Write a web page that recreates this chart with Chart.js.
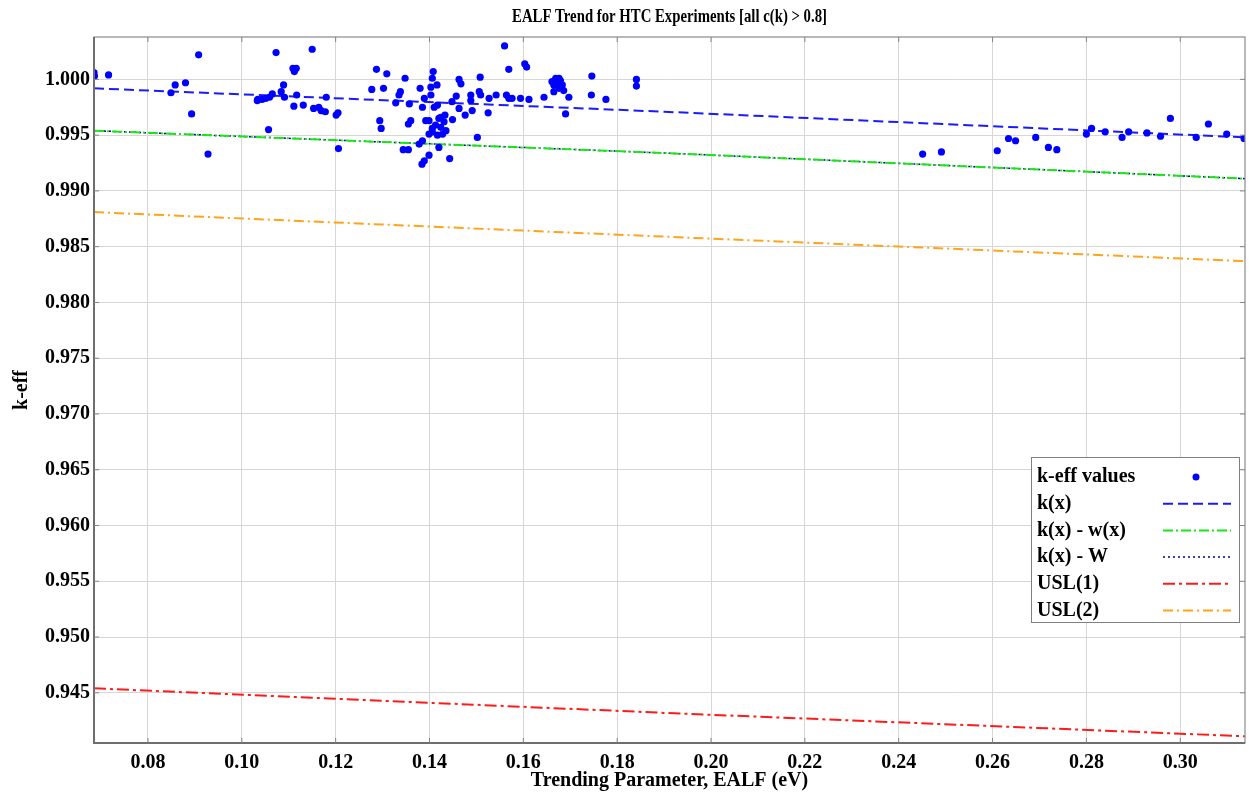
<!DOCTYPE html>
<html lang="en">
<head>
    <meta charset="UTF-8" />
    <title>EALF Trend for HTC Experiments</title>
    <script src="https://cdn.jsdelivr.net/npm/chart.js"></script>
    <style>
        body { margin: 0; background: #fff; }
        #wrap { width: 1249px; height: 797px; position: relative; }
    </style>
</head>
<body>
    <div id="wrap"><canvas id="ealfChart"></canvas></div>

    <script>
        // k-eff values (EALF in eV, k-eff)
        const keffX = [
            0.0685, 0.0686, 0.0716, 0.0908, 0.0858, 0.0880, 0.0849, 0.0893, 0.0928, 0.1033,
            0.1073, 0.1150, 0.1109, 0.1112, 0.1116, 0.1089, 0.1084, 0.1034, 0.1043, 0.1051,
            0.1059, 0.1065, 0.1091, 0.1117, 0.1111, 0.1131, 0.1153, 0.1164, 0.1169, 0.1178,
            0.1180, 0.1205, 0.1201, 0.1057, 0.1206, 0.1287, 0.1309, 0.1348, 0.1277, 0.1302,
            0.1338, 0.1335, 0.1328, 0.1294, 0.1297, 0.1357, 0.1355, 0.1360, 0.1344, 0.1355,
            0.1560, 0.1569, 0.1603, 0.1607, 0.1508, 0.1463, 0.1467, 0.1408, 0.1406, 0.1416,
            0.1403, 0.1380, 0.1389, 0.1403, 0.1385, 0.1410, 0.1417, 0.1433, 0.1424, 0.1457,
            0.1448, 0.1463, 0.1488, 0.1488, 0.1506, 0.1509, 0.1476, 0.1491, 0.1527, 0.1542,
            0.1525, 0.1564, 0.1569, 0.1576, 0.1594, 0.1612, 0.1644, 0.1661, 0.1665, 0.1669,
            0.1665, 0.1392, 0.1399, 0.1413, 0.1424, 0.1406, 0.1431, 0.1420, 0.1449, 0.1435,
            0.1428, 0.1399, 0.1417, 0.1406, 0.1385, 0.1378, 0.1420, 0.1502, 0.1399, 0.1389,
            0.1384, 0.1443, 0.1676, 0.1679, 0.1672, 0.1683, 0.1676, 0.1686, 0.1697, 0.1690,
            0.1746, 0.1745, 0.1776, 0.1841, 0.1841, 0.2451, 0.2491, 0.2610, 0.2634, 0.2649,
            0.2692, 0.2719, 0.2737, 0.2800, 0.2811, 0.2840, 0.2876, 0.2890, 0.2929, 0.2958,
            0.2979, 0.3034, 0.3060, 0.3099, 0.3136
        ];
        const keffY = [
            1.0006, 1.0003, 1.0004, 1.0022, 0.9995, 0.9997, 0.9988, 0.9969, 0.9933, 0.9981,
            1.0024, 1.0027, 1.0010, 1.0007, 1.0010, 0.9995, 0.9989, 0.9982, 0.9982, 0.9983,
            0.9984, 0.9987, 0.9984, 0.9986, 0.9976, 0.9977, 0.9974, 0.9975, 0.9972, 0.9971,
            0.9984, 0.9970, 0.9968, 0.9955, 0.9938, 1.0009, 1.0005, 1.0001, 0.9991, 0.9992,
            0.9989, 0.9986, 0.9979, 0.9963, 0.9956, 0.9978, 0.9960, 0.9963, 0.9937, 0.9937,
            1.0030, 1.0009, 1.0014, 1.0011, 1.0002, 1.0000, 0.9996, 1.0007, 1.0001, 0.9995,
            0.9993, 0.9992, 0.9983, 0.9986, 0.9975, 0.9975, 0.9977, 0.9968, 0.9966, 0.9985,
            0.9980, 0.9974, 0.9986, 0.9981, 0.9989, 0.9986, 0.9968, 0.9972, 0.9983, 0.9986,
            0.9970, 0.9986, 0.9983, 0.9983, 0.9983, 0.9982, 0.9984, 0.9998, 0.9995, 1.0001,
            0.9989, 0.9963, 0.9963, 0.9959, 0.9957, 0.9956, 0.9962, 0.9965, 0.9964, 0.9954,
            0.9951, 0.9951, 0.9950, 0.9953, 0.9945, 0.9942, 0.9939, 0.9948, 0.9932, 0.9927,
            0.9924, 0.9929, 1.0001, 0.9999, 0.9998, 0.9995, 0.9992, 0.9990, 0.9984, 0.9969,
            1.0003, 0.9986, 0.9982, 1.0000, 0.9994, 0.9933, 0.9935, 0.9936, 0.9947, 0.9945,
            0.9948, 0.9939, 0.9937, 0.9951, 0.9956, 0.9953, 0.9948, 0.9953, 0.9952, 0.9949,
            0.9965, 0.9948, 0.9960, 0.9951, 0.9947
        ];

        // trend lines, sampled at the ends and middle of the plot
        const lineX = [0.0685, 0.19, 0.3138];
        const kxY = [0.9992, 0.9971, 0.9948];
        const kxMinusWxY = [0.9954, 0.9934, 0.9911];
        const kxMinusWY = [0.9954, 0.9934, 0.9911];
        const usl1Y = [0.9454, 0.9432, 0.9411];
        const usl2Y = [0.9881, 0.9859, 0.9837];

        const xTicks = [0.08, 0.10, 0.12, 0.14, 0.16, 0.18, 0.20, 0.22, 0.24, 0.26, 0.28, 0.30];
        const yTicks = [0.945, 0.950, 0.955, 0.960, 0.965, 0.970, 0.975, 0.980, 0.985, 0.990, 0.995, 1.000];

        const FONT = "'Liberation Serif', 'Times New Roman', serif";

        const toPoints = (xs, ys) => xs.map((x, i) => ({ x: x, y: ys[i] }));

        function lineSet(label, ys, color, dash, width) {
            return {
                label: label,
                data: toPoints(lineX, ys),
                showLine: true,
                borderColor: color,
                borderWidth: width || 2,
                borderDash: dash,
                pointRadius: 0,
                fill: false
            };
        }

        // title centred over the plot area (slightly condensed like the original)
        const titlePlugin = {
            id: 'plotTitle',
            afterDraw(chart) {
                const { ctx, chartArea } = chart;
                ctx.save();
                ctx.translate((chartArea.left + chartArea.right) / 2, 17);
                ctx.scale(0.82, 1);
                ctx.font = "bold 18px " + FONT;
                ctx.fillStyle = '#000';
                ctx.textAlign = 'center';
                ctx.textBaseline = 'middle';
                ctx.fillText('EALF Trend for HTC Experiments [all c(k) > 0.8]', 0, 0);
                ctx.restore();
            }
        };

        // grey frame round the plot with small inner ticks
        const framePlugin = {
            id: 'frame',
            afterDatasetsDraw(chart) {
                const { ctx, chartArea: a, scales } = chart;
                ctx.save();
                ctx.strokeStyle = '#8a8a8a';
                ctx.lineWidth = 1.2;
                ctx.strokeRect(a.left, a.top, a.right - a.left, a.bottom - a.top);
                ctx.strokeStyle = '#6e6e6e';
                ctx.lineWidth = 2;
                ctx.beginPath();
                ctx.moveTo(a.left, a.top);
                ctx.lineTo(a.left, a.bottom);
                ctx.lineTo(a.right, a.bottom);
                ctx.stroke();
                ctx.lineWidth = 1;
                ctx.strokeStyle = '#858585';
                ctx.beginPath();
                yTicks.forEach(v => {
                    const y = scales.y.getPixelForValue(v);
                    ctx.moveTo(a.right - 5, y); ctx.lineTo(a.right, y);
                    ctx.moveTo(a.left, y); ctx.lineTo(a.left + 5, y);
                });
                xTicks.forEach(v => {
                    const x = scales.x.getPixelForValue(v);
                    ctx.moveTo(x, a.top); ctx.lineTo(x, a.top + 5);
                    ctx.moveTo(x, a.bottom); ctx.lineTo(x, a.bottom - 5);
                });
                ctx.stroke();
                ctx.restore();
            }
        };

        // legend box in the lower right: label on the left, sample on the right
        const legendPlugin = {
            id: 'boxLegend',
            afterDraw(chart) {
                const { ctx, chartArea: a } = chart;
                const left = a.right - 214, top = a.top + 420, w = 208, h = 165;
                ctx.save();
                ctx.fillStyle = '#fff';
                ctx.fillRect(left, top, w, h);
                ctx.strokeStyle = '#808080';
                ctx.lineWidth = 1;
                ctx.strokeRect(left + 0.5, top + 0.5, w, h);
                ctx.font = "bold 20px " + FONT;
                ctx.textBaseline = 'middle';
                ctx.textAlign = 'left';
                chart.data.datasets.forEach((ds, i) => {
                    const y = top + 20 + i * 26.7;
                    ctx.fillStyle = '#000';
                    ctx.fillText(ds.label, left + 6, y);
                    if (ds.showLine) {
                        ctx.strokeStyle = ds.borderColor;
                        ctx.lineWidth = ds.borderWidth;
                        ctx.setLineDash(ds.borderDash || []);
                        ctx.beginPath();
                        ctx.moveTo(left + 132, y);
                        ctx.lineTo(left + 200, y);
                        ctx.stroke();
                        ctx.setLineDash([]);
                    } else {
                        ctx.fillStyle = ds.backgroundColor;
                        ctx.beginPath();
                        ctx.arc(left + 165, y, 3.5, 0, Math.PI * 2);
                        ctx.fill();
                    }
                });
                ctx.restore();
            }
        };

        new Chart(document.getElementById('ealfChart'), {
            type: 'scatter',
            data: {
                datasets: [
                    {
                        label: 'k-eff values',
                        data: toPoints(keffX, keffY),
                        backgroundColor: '#0000ff',
                        borderWidth: 0,
                        pointRadius: 3.6,
                        showLine: false
                    },
                    lineSet('k(x)', kxY, '#1a1aff', [10, 5]),
                    lineSet('k(x) - w(x)', kxMinusWxY, '#19e619', [10, 3, 2, 3]),
                    lineSet('k(x) - W', kxMinusWY, '#00008b', [2, 3], 1.5),
                    lineSet('USL(1)', usl1Y, '#ff1a1a', [12, 4, 3, 4]),
                    lineSet('USL(2)', usl2Y, '#ffa31a', [10, 4, 2, 4])
                ]
            },
            options: {
                responsive: true,
                maintainAspectRatio: false,
                animation: false,
                layout: { padding: { top: 37, right: -2, left: 0, bottom: 0 } },
                plugins: {
                    legend: { display: false },
                    title: { display: false },
                    tooltip: { enabled: false }
                },
                scales: {
                    x: {
                        type: 'linear',
                        min: 0.0685,
                        max: 0.3138,
                        afterBuildTicks: s => { s.ticks = xTicks.map(v => ({ value: v })); },
                        afterFit: s => { s.height = 54; },
                        border: { display: false },
                        grid: { color: '#d6d6d6', lineWidth: 1, drawTicks: false },
                        ticks: {
                            padding: 8,
                            color: '#000',
                            font: { family: FONT, size: 20, weight: 'bold' },
                            callback: v => v.toFixed(2)
                        },
                        title: {
                            display: true,
                            text: 'Trending Parameter, EALF (eV)',
                            color: '#000',
                            font: { family: FONT, size: 20, weight: 'bold' },
                            padding: { top: 0, bottom: 4 }
                        }
                    },
                    y: {
                        type: 'linear',
                        min: 0.9405,
                        max: 1.0038,
                        afterBuildTicks: s => { s.ticks = yTicks.map(v => ({ value: v })); },
                        afterFit: s => { s.width = 94; },
                        border: { display: false },
                        grid: { color: '#d6d6d6', lineWidth: 1, drawTicks: false },
                        ticks: {
                            padding: 4,
                            color: '#000',
                            font: { family: FONT, size: 20, weight: 'bold' },
                            callback: v => v.toFixed(3)
                        },
                        title: {
                            display: true,
                            text: 'k-eff',
                            color: '#000',
                            font: { family: FONT, size: 20, weight: 'bold' },
                            padding: { top: 10, bottom: 0 }
                        }
                    }
                }
            },
            plugins: [titlePlugin, framePlugin, legendPlugin]
        });
    </script>
</body>
</html>
